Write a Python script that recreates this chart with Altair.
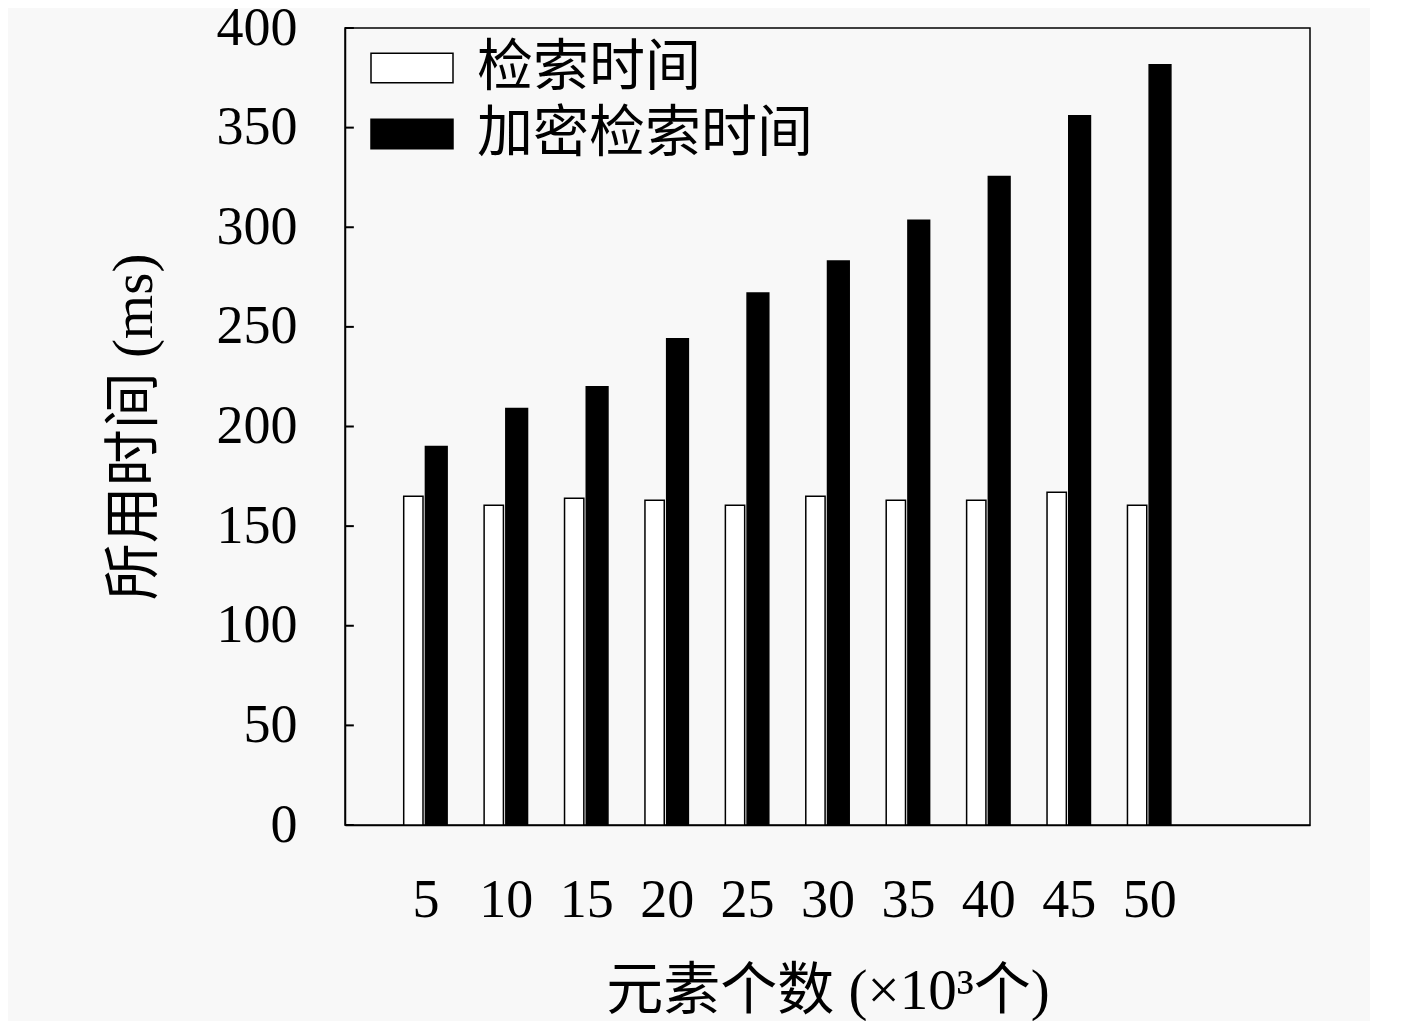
import altair as alt
import pandas as pd

categories = [5, 10, 15, 20, 25, 30, 35, 40, 45, 50]
search_time = [165, 160.5, 164, 163, 160.5, 165, 163, 163, 167, 160.5]
enc_search_time = [190, 209, 220, 244, 267, 283, 303.5, 325.5, 356, 381.5]
series_names = ["检索时间", "加密检索时间"]
y_ticks = [0, 50, 100, 150, 200, 250, 300, 350, 400]

rows = []
for i, c in enumerate(categories):
    pos = i + 1
    rows.append({"cat": c, "pos": pos, "series": series_names[0], "value": search_time[i],
                 "x0": pos - 0.27, "x1": pos - 0.03})
    rows.append({"cat": c, "pos": pos, "series": series_names[1], "value": enc_search_time[i],
                 "x0": pos + 0.0, "x1": pos + 0.27})
df = pd.DataFrame(rows)
ticks_df = pd.DataFrame({"t": y_ticks})
ticks_df["xa"] = 0.0
ticks_df["xb"] = 0.11

FONT = "Liberation Serif, Noto Sans CJK SC"

bars = alt.Chart(df).mark_rect(stroke="black", strokeWidth=1.5).encode(
    x=alt.X("x0:Q", scale=alt.Scale(domain=[0, 12], nice=False, zero=False),
            axis=alt.Axis(values=list(range(1, 11)), labelExpr="datum.value * 5",
                          tickSize=0, grid=False, domain=True, domainColor="black",
                          domainWidth=1.5, labelPadding=48, labelFontSize=54,
                          labelColor="black", titleFontSize=57, titlePadding=36,
                          titleColor="black", titleFontWeight="normal"),
            title="元素个数 (×10³个)"),
    x2="x1:Q",
    y=alt.Y("value:Q", scale=alt.Scale(domain=[0, 400], nice=False),
            axis=alt.Axis(values=y_ticks, tickSize=0, grid=False, domain=True,
                          domainColor="black", domainWidth=1.5, labelPadding=48,
                          labelFontSize=54, labelColor="black", titleFontSize=57,
                          titlePadding=53, titleColor="black", titleFontWeight="normal"),
            title="所用时间 (ms)"),
    y2=alt.datum(0),
    fill=alt.Fill("series:N", scale=alt.Scale(domain=series_names, range=["white", "black"]),
                  legend=alt.Legend(title=None, orient="none", legendX=33, legendY=6,
                                    symbolType="M-1.25,-0.45L1.25,-0.45L1.25,0.45L-1.25,0.45Z",
                                    symbolSize=4303, symbolStrokeColor="black",
                                    symbolStrokeWidth=1.5, labelFontSize=56,
                                    labelColor="black", labelOffset=31, rowPadding=4,
                                    labelFont=FONT, padding=0, labelLimit=600)),
)

tick_rules = alt.Chart(ticks_df).mark_rule(color="black", strokeWidth=2).encode(
    y="t:Q", x="xa:Q", x2="xb:Q"
)

chart = alt.layer(bars, tick_rules).properties(
    width=965, height=797,
    autosize=alt.AutoSizeParams(type="none"),
    padding={"left": 337, "top": 20, "right": 60, "bottom": 196},
    background="#f8f8f8",
).configure(font=FONT).configure_view(stroke="black", strokeWidth=1.5)

chart.save("out.html", embed_options={"renderer": "svg", "actions": False})
